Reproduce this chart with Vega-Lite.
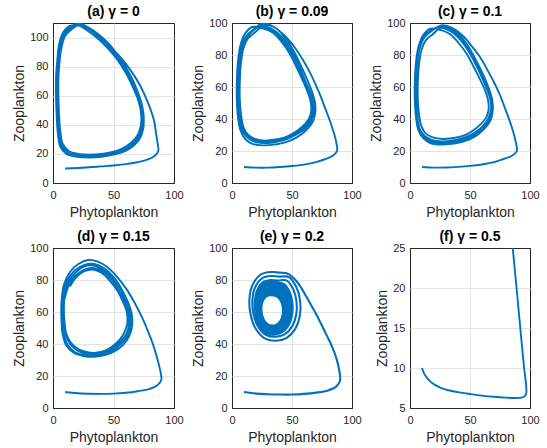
{
"$schema": "https://vega.github.io/schema/vega-lite/v6.json",
"padding": {"left": 12, "top": 4, "right": 2, "bottom": 2},
"config": {
 "font": "Liberation Sans",
 "view": {"stroke": "#262626", "strokeWidth": 1},
 "axis": {"grid": true, "ticks": false, "domain": false, "labelFontSize": 11, "labelColor": "#262626", "titleFontSize": 14, "titleFontWeight": "normal", "titleColor": "#262626", "labelFlush": false, "labelPadding": 5, "titlePadding": 3},
 "axisX": {"labelPadding": 6, "titlePadding": 5},
 "title": {"fontSize": 14, "fontWeight": "bold", "color": "#000000", "offset": -2},
 "line": {"color": "#0072BD", "strokeWidth": 1.9, "interpolate": "catmull-rom"}
},
"datasets": {
"a": [{"x":10,"y":10},{"x":20,"y":10.3},{"x":30,"y":10.8},{"x":40,"y":11.4},{"x":50,"y":12},{"x":60,"y":13},{"x":70,"y":14.3},{"x":78,"y":16},{"x":84,"y":18.5},{"x":87,"y":22},{"x":86.5,"y":27},{"x":85,"y":35},{"x":83.5,"y":43},{"x":80,"y":52},{"x":76,"y":60},{"x":72,"y":67},{"x":67,"y":74},{"x":61,"y":81},{"x":54,"y":88},{"x":46,"y":95},{"x":37,"y":102},{"x":29,"y":107},{"x":22,"y":109.5},
{"x":15,"y":107},{"x":9,"y":102},{"x":6,"y":94},{"x":4.5,"y":84},{"x":3.5,"y":72},{"x":3.5,"y":60},{"x":4,"y":47},{"x":5,"y":35},{"x":7,"y":26},{"x":12,"y":21},{"x":20,"y":19},{"x":30,"y":18.5},{"x":40,"y":19},{"x":50,"y":20.5},{"x":59,"y":23},{"x":66,"y":27},{"x":71,"y":32},{"x":73.5,"y":38},{"x":74,"y":45},{"x":73,"y":52},{"x":71,"y":58},{"x":67,"y":66},{"x":61,"y":76},{"x":54,"y":85},{"x":46,"y":94},{"x":37,"y":101},{"x":29,"y":106},{"x":22,"y":109},
{"x":16,"y":106},{"x":10,"y":101},{"x":7,"y":93},{"x":5.5,"y":84},{"x":4.5,"y":72},{"x":4.5,"y":60},{"x":5,"y":47},{"x":6,"y":36},{"x":8,"y":27},{"x":13,"y":22},{"x":21,"y":20},{"x":30,"y":19.5},{"x":40,"y":20},{"x":50,"y":21.5},{"x":58,"y":24},{"x":65,"y":28},{"x":70,"y":33},{"x":72.5,"y":39},{"x":73,"y":45},{"x":72,"y":52},{"x":70,"y":58},{"x":66,"y":66},{"x":60,"y":76},{"x":53,"y":85},{"x":45,"y":93},{"x":36,"y":100},{"x":28,"y":105},{"x":22,"y":108},
{"x":14,"y":108},{"x":8,"y":103},{"x":5,"y":95},{"x":3.5,"y":84},{"x":2.5,"y":72},{"x":2.5,"y":60},{"x":3,"y":47},{"x":4,"y":34},{"x":6,"y":25},{"x":11,"y":20},{"x":20,"y":18},{"x":30,"y":17.5},{"x":40,"y":18},{"x":50,"y":19.5},{"x":60,"y":22},{"x":67,"y":26},{"x":72,"y":31},{"x":74.5,"y":37},{"x":75,"y":45},{"x":74,"y":52},{"x":72,"y":58},{"x":68,"y":67},{"x":62,"y":77},{"x":55,"y":86},{"x":47,"y":95},{"x":38,"y":102},{"x":29,"y":107},{"x":21,"y":110},
{"x":15,"y":107.5},{"x":9,"y":102.5},{"x":5.5,"y":94},{"x":4,"y":84},{"x":3,"y":72},{"x":3,"y":60},{"x":3.5,"y":47},{"x":4.5,"y":35},{"x":6.5,"y":26},{"x":11.5,"y":20.5},{"x":20,"y":18.5},{"x":30,"y":18},{"x":40,"y":18.5},{"x":50,"y":20},{"x":59.5,"y":22.5},{"x":66.5,"y":26.5},{"x":71.5,"y":31.5},{"x":74,"y":37.5},{"x":74.5,"y":45},{"x":73.5,"y":52},{"x":71.5,"y":58},{"x":67.5,"y":66.5},{"x":61.5,"y":76.5},{"x":54.5,"y":85.5},{"x":46.5,"y":94.5},{"x":37.5,"y":101.5},{"x":29,"y":106.5},{"x":22,"y":109}],
"b": [{"x":10,"y":10},{"x":20,"y":9.6},{"x":30,"y":9.6},{"x":40,"y":10},{"x":50,"y":10.6},{"x":60,"y":11.5},{"x":70,"y":13},{"x":78,"y":15},{"x":84,"y":17},{"x":87.5,"y":20},{"x":87,"y":25},{"x":85,"y":31},{"x":82,"y":38},{"x":78,"y":46},{"x":74,"y":54},{"x":70,"y":61},{"x":65,"y":69},{"x":59,"y":77},{"x":52,"y":85},{"x":44,"y":92},{"x":35,"y":97.5},{"x":26,"y":100},
{"x":18,"y":96},{"x":12,"y":92},{"x":8,"y":85},{"x":6,"y":75},{"x":5,"y":63},{"x":5,"y":52},{"x":6,"y":42},{"x":8,"y":34},{"x":12,"y":29},{"x":18,"y":26},{"x":26,"y":25},{"x":35,"y":25.5},{"x":44,"y":27},{"x":53,"y":30},{"x":61,"y":34},{"x":66,"y":39},{"x":68,"y":45},{"x":67.5,"y":51},{"x":65,"y":57},{"x":61,"y":64},{"x":56,"y":73},{"x":50,"y":82},{"x":43,"y":90},{"x":35,"y":95.5},{"x":26,"y":98},
{"x":19,"y":94},{"x":13,"y":90},{"x":9.5,"y":84},{"x":7.5,"y":75},{"x":6.5,"y":63},{"x":6.5,"y":52},{"x":7.5,"y":43},{"x":9.5,"y":35},{"x":13,"y":30.5},{"x":19,"y":27.5},{"x":27,"y":26.5},{"x":35,"y":27},{"x":44,"y":28.5},{"x":52,"y":31.5},{"x":59,"y":35.5},{"x":64,"y":40},{"x":66,"y":45},{"x":65.5,"y":51},{"x":63,"y":57},{"x":59,"y":64},{"x":54,"y":72},{"x":48,"y":81},{"x":41,"y":88.5},{"x":34,"y":94},{"x":26,"y":96.5},
{"x":17,"y":97.5},{"x":11,"y":93.5},{"x":7,"y":86},{"x":5,"y":76},{"x":4,"y":63},{"x":4,"y":52},{"x":5,"y":41},{"x":7,"y":33},{"x":11,"y":27.5},{"x":17,"y":24.5},{"x":26,"y":23.5},{"x":35,"y":24},{"x":45,"y":25.5},{"x":54,"y":28.5},{"x":62,"y":33},{"x":67.5,"y":38.5},{"x":69.5,"y":45},{"x":69,"y":51},{"x":66.5,"y":57.5},{"x":62.5,"y":65},{"x":57,"y":74},{"x":51,"y":83},{"x":44,"y":91},{"x":36,"y":97},{"x":26,"y":99},
{"x":18,"y":95.5},{"x":12.5,"y":91},{"x":8.5,"y":84.5},{"x":6.5,"y":75},{"x":5.5,"y":63},{"x":5.5,"y":52},{"x":6.5,"y":42.5},{"x":8.5,"y":34.5},{"x":12.5,"y":29.5},{"x":18.5,"y":27},{"x":26.5,"y":26},{"x":35,"y":26},{"x":44.5,"y":27.5},{"x":52.5,"y":30.5},{"x":60,"y":34.5},{"x":65,"y":39.5},{"x":67,"y":45},{"x":66.5,"y":51},{"x":64,"y":57},{"x":60,"y":64},{"x":55,"y":72.5},{"x":49,"y":81.5},{"x":42,"y":89.5},{"x":34.5,"y":95},{"x":26,"y":97.5}],
"c": [{"x":10,"y":10},{"x":20,"y":9.6},{"x":30,"y":9.7},{"x":40,"y":10.1},{"x":50,"y":10.7},{"x":60,"y":11.6},{"x":70,"y":13},{"x":78,"y":15},{"x":85,"y":17},{"x":89,"y":20},{"x":88,"y":26},{"x":86,"y":32},{"x":83,"y":39},{"x":79,"y":47},{"x":75,"y":55},{"x":70,"y":63},{"x":65,"y":70},{"x":59,"y":78},{"x":52,"y":85},{"x":44,"y":92},{"x":35,"y":97},{"x":26,"y":98.5},
{"x":18,"y":95},{"x":12,"y":91},{"x":8,"y":84},{"x":6,"y":75},{"x":5,"y":63},{"x":5,"y":52},{"x":6,"y":42},{"x":8,"y":34},{"x":12,"y":29.5},{"x":18,"y":27},{"x":26,"y":26},{"x":35,"y":26.5},{"x":44,"y":28},{"x":53,"y":31},{"x":60,"y":35},{"x":65,"y":40},{"x":67.5,"y":46},{"x":67,"y":52},{"x":64.5,"y":58},{"x":60.5,"y":65},{"x":55.5,"y":73},{"x":49.5,"y":81.5},{"x":42.5,"y":89},{"x":34.5,"y":94.5},{"x":26,"y":97},
{"x":19,"y":93},{"x":13,"y":89},{"x":9.5,"y":83},{"x":7.5,"y":74},{"x":6.5,"y":63},{"x":6.5,"y":52},{"x":7.5,"y":43},{"x":9.5,"y":35.5},{"x":13,"y":31},{"x":19,"y":28.5},{"x":27,"y":27.5},{"x":35,"y":28},{"x":44,"y":29.5},{"x":52,"y":32.5},{"x":58.5,"y":36.5},{"x":63.5,"y":41},{"x":65.5,"y":46},{"x":65,"y":52},{"x":62.5,"y":58},{"x":58.5,"y":64.5},{"x":53.5,"y":72},{"x":47.5,"y":80.5},{"x":40.5,"y":87.5},{"x":33.5,"y":93},{"x":26,"y":95.5},
{"x":17,"y":96.5},{"x":11,"y":92.5},{"x":7,"y":85},{"x":5,"y":75.5},{"x":4,"y":63},{"x":4,"y":52},{"x":5,"y":41},{"x":7,"y":33},{"x":11,"y":28},{"x":17,"y":25},{"x":26,"y":24},{"x":35,"y":24.5},{"x":45,"y":26},{"x":54,"y":29},{"x":61.5,"y":33.5},{"x":67,"y":39},{"x":69,"y":45.5},{"x":68.5,"y":52},{"x":66,"y":58.5},{"x":62,"y":66},{"x":56.5,"y":74.5},{"x":50.5,"y":83},{"x":43.5,"y":90.5},{"x":35.5,"y":96},{"x":26,"y":98},
{"x":17.5,"y":95.5},{"x":11.5,"y":91.5},{"x":7.5,"y":84.5},{"x":5.5,"y":75},{"x":4.5,"y":63},{"x":4.5,"y":52},{"x":5.5,"y":41.5},{"x":7.5,"y":33.5},{"x":11.5,"y":28.5},{"x":17.5,"y":26},{"x":26,"y":25},{"x":35,"y":25.5},{"x":44.5,"y":27},{"x":53.5,"y":30},{"x":61,"y":34},{"x":66,"y":39.5},{"x":68,"y":45.5},{"x":68,"y":52},{"x":65,"y":58},{"x":61,"y":65.5},{"x":56,"y":74},{"x":50,"y":82},{"x":43,"y":90},{"x":35,"y":95},{"x":26,"y":97.5}],
"d": [{"x":10,"y":10},{"x":20,"y":9.2},{"x":30,"y":8.9},{"x":40,"y":8.8},{"x":50,"y":9},{"x":60,"y":9.5},{"x":70,"y":10.5},{"x":80,"y":12},{"x":86,"y":14},{"x":89.5,"y":17.5},{"x":89,"y":22},{"x":86.5,"y":30},{"x":83,"y":39},{"x":79,"y":47},{"x":74,"y":56},{"x":68,"y":65},{"x":61,"y":74},{"x":53,"y":82},{"x":45,"y":88},{"x":37,"y":91.5},{"x":29,"y":92.5},{"x":21,"y":90},{"x":14,"y":85},
{"x":9,"y":77},{"x":7,"y":66},{"x":7,"y":55},{"x":8,"y":46},{"x":11,"y":39},{"x":17,"y":34.5},{"x":25,"y":32.5},{"x":34,"y":32},{"x":43,"y":33},{"x":51,"y":35.5},{"x":58,"y":39.5},{"x":63,"y":45},{"x":65.5,"y":52},{"x":65,"y":59},{"x":62,"y":66},{"x":57,"y":74},{"x":50,"y":82},{"x":42,"y":87.5},{"x":34,"y":90},{"x":26,"y":89.5},{"x":18,"y":86},{"x":12,"y":80},
{"x":9.5,"y":73},{"x":8.5,"y":64},{"x":9,"y":54},{"x":10.5,"y":46},{"x":14,"y":40},{"x":20,"y":36},{"x":27,"y":34},{"x":35,"y":33.5},{"x":43.5,"y":35},{"x":50.5,"y":38},{"x":56.5,"y":42},{"x":61,"y":47},{"x":63,"y":53},{"x":62,"y":60},{"x":59,"y":66.5},{"x":54.5,"y":73.5},{"x":48,"y":80.5},{"x":40.5,"y":85.5},{"x":33,"y":87.5},{"x":26,"y":86.5},{"x":19,"y":83},{"x":13.5,"y":77.5},
{"x":10.5,"y":71},{"x":8.5,"y":64.5},{"x":8,"y":55},{"x":9,"y":46},{"x":12,"y":39.5},{"x":18,"y":35},{"x":26,"y":33},{"x":35,"y":32.5},{"x":44,"y":34},{"x":51.5,"y":37},{"x":57.5,"y":41},{"x":62,"y":46},{"x":64.5,"y":52.5},{"x":63.5,"y":59.5},{"x":60.5,"y":66.5},{"x":56,"y":74},{"x":49,"y":81.5},{"x":41,"y":86.5},{"x":33.5,"y":89},{"x":26,"y":88.5},{"x":18.5,"y":84.5},{"x":13,"y":79},
{"x":10,"y":72},{"x":9,"y":63},{"x":9.5,"y":54},{"x":11,"y":46.5},{"x":14.5,"y":41},{"x":20.5,"y":37},{"x":27.5,"y":35},{"x":35.5,"y":34.5},{"x":43.5,"y":36},{"x":50,"y":39},{"x":55.5,"y":43},{"x":59.5,"y":48},{"x":61.5,"y":53.5},{"x":61,"y":60},{"x":58,"y":66},{"x":53.5,"y":73},{"x":47,"y":79.5},{"x":40,"y":84.5},{"x":33,"y":86.5},{"x":26,"y":85.5},{"x":19.5,"y":82},{"x":14,"y":76}],
"e": [{"x":10,"y":10},{"x":20,"y":9},{"x":30,"y":8.6},{"x":40,"y":8.4},{"x":50,"y":8.4},{"x":60,"y":8.8},{"x":70,"y":9.6},{"x":80,"y":11},{"x":87,"y":13.5},{"x":90,"y":17},{"x":89.5,"y":23},{"x":87,"y":31},{"x":83,"y":39},{"x":78.5,"y":46},{"x":74,"y":53},{"x":68,"y":61.5},{"x":62,"y":69.5},{"x":56.5,"y":76.5},{"x":51,"y":81.5},{"x":45,"y":84.3},
{"x":40,"y":84.6},{"x":32.6,"y":85},{"x":24.1,"y":83.5},{"x":17.05,"y":76.8},{"x":14.5,"y":67.8},{"x":15.6,"y":58.1},{"x":19.8,"y":49.5},{"x":27.25,"y":43.5},{"x":36.8,"y":42},{"x":45.3,"y":43.7},{"x":52.75,"y":49.5},{"x":56.6,"y":58.1},{"x":56.6,"y":67.8},{"x":53.8,"y":75.3},{"x":47.4,"y":81.8},
{"x":39.2,"y":82.1},{"x":32.7,"y":82.5},{"x":25.3,"y":81.2},{"x":19.2,"y":75.3},{"x":17,"y":67.3},{"x":17.9,"y":58.75},{"x":21.6,"y":51.15},{"x":28.1,"y":45.8},{"x":36.4,"y":44.5},{"x":43.8,"y":46},{"x":50.3,"y":51.15},{"x":53.6,"y":58.75},{"x":53.6,"y":67.3},{"x":51.2,"y":73.95},{"x":45.7,"y":79.65},
{"x":37.9,"y":79.7},{"x":32.4,"y":80},{"x":26.1,"y":78.8},{"x":20.9,"y":73.5},{"x":19,"y":66.4},{"x":19.8,"y":58.75},{"x":22.9,"y":51.95},{"x":28.45,"y":47.2},{"x":35.5,"y":46},{"x":41.85,"y":47.4},{"x":47.35,"y":51.95},{"x":50.2,"y":58.75},{"x":50.2,"y":66.4},{"x":48.1,"y":72.35},{"x":43.4,"y":77.45},
{"x":37.6,"y":78.45},{"x":32.4,"y":78.75},{"x":26.45,"y":77.6},{"x":21.55,"y":72.65},{"x":19.75,"y":65.95},{"x":20.5,"y":58.75},{"x":23.45,"y":52.35},{"x":28.7,"y":47.9},{"x":35.35,"y":46.75},{"x":41.3,"y":48.05},{"x":46.5,"y":52.35},{"x":49.2,"y":58.75},{"x":49.2,"y":65.95},{"x":47.25,"y":71.55},{"x":42.8,"y":76.35},
{"x":37.3,"y":77.2},{"x":32.4,"y":77.5},{"x":26.8,"y":76.45},{"x":22.2,"y":71.8},{"x":20.5,"y":65.5},{"x":21.2,"y":58.75},{"x":24,"y":52.75},{"x":28.9,"y":48.55},{"x":35.2,"y":47.5},{"x":40.8,"y":48.7},{"x":45.7,"y":52.75},{"x":48.2,"y":58.75},{"x":48.2,"y":65.5},{"x":46.4,"y":70.75},{"x":42.2,"y":75.25},
{"x":37,"y":76},{"x":32.4,"y":76.25},{"x":27.15,"y":75.3},{"x":22.85,"y":70.9},{"x":21.25,"y":65.05},{"x":21.9,"y":58.75},{"x":24.55,"y":53.15},{"x":29.1,"y":49.2},{"x":35.05,"y":48.25},{"x":40.3,"y":49.4},{"x":44.9,"y":53.15},{"x":47.2,"y":58.75},{"x":47.2,"y":65.05},{"x":45.5,"y":69.95},{"x":41.6,"y":74.15},
{"x":36.7,"y":74.75},{"x":32.4,"y":75},{"x":27.5,"y":74.1},{"x":23.5,"y":70.06},{"x":22,"y":64.6},{"x":22.6,"y":58.75},{"x":25.1,"y":53.55},{"x":29.35,"y":49.9},{"x":34.9,"y":49},{"x":39.75,"y":50.05},{"x":44.05,"y":53.55},{"x":46.25,"y":58.75},{"x":46.25,"y":64.6},{"x":44.65,"y":69.15},{"x":41,"y":73.05},
{"x":36.25,"y":73.5},{"x":32.3,"y":73.75},{"x":27.8,"y":72.9},{"x":24.1,"y":69.2},{"x":22.75,"y":64.15},{"x":23.3,"y":58.75},{"x":25.6,"y":53.95},{"x":29.5,"y":50.6},{"x":34.6,"y":49.75},{"x":39.05,"y":50.7},{"x":43,"y":53.95},{"x":45,"y":58.75},{"x":45,"y":64.15},{"x":43.55,"y":68.35},{"x":40.2,"y":71.95},
{"x":35.8,"y":72.3},{"x":32.2,"y":72.5},{"x":28.1,"y":71.7},{"x":24.7,"y":68.3},{"x":23.5,"y":63.7},{"x":24,"y":58.75},{"x":26.05,"y":54.35},{"x":29.65,"y":51.3},{"x":34.25,"y":50.5},{"x":38.35,"y":51.4},{"x":41.95,"y":54.35},{"x":43.8,"y":58.75},{"x":43.8,"y":63.7},{"x":42.45,"y":67.55},{"x":39.4,"y":70.85},
{"x":35.55,"y":71.3},{"x":32.2,"y":71.5},{"x":28.3,"y":70.75},{"x":25.15,"y":67.6},{"x":24,"y":63.3},{"x":24.5,"y":58.7},{"x":26.4,"y":54.6},{"x":29.8,"y":51.75},{"x":34.1,"y":51},{"x":37.95,"y":51.85},{"x":41.3,"y":54.6},{"x":43.05,"y":58.7},{"x":43.05,"y":63.3},{"x":41.8,"y":66.9},{"x":38.9,"y":69.95},
{"x":35.3,"y":70.3},{"x":32.15,"y":70.5},{"x":28.55,"y":69.8},{"x":25.6,"y":66.9},{"x":24.5,"y":62.9},{"x":24.95,"y":58.6},{"x":26.75,"y":54.8},{"x":29.9,"y":52.2},{"x":33.95,"y":51.5},{"x":37.55,"y":52.3},{"x":40.7,"y":54.8},{"x":42.3,"y":58.6},{"x":42.3,"y":62.9},{"x":41.15,"y":66.2},{"x":38.45,"y":69.1},{"x":35.3,"y":70.3}],
"f": [{"x":10,"y":10},{"x":11.5,"y":9.4},{"x":13.5,"y":8.9},{"x":16,"y":8.45},{"x":19,"y":8.05},{"x":23,"y":7.7},{"x":28,"y":7.4},{"x":34,"y":7.15},{"x":41,"y":6.95},{"x":50,"y":6.75},{"x":60,"y":6.55},{"x":70,"y":6.4},{"x":80,"y":6.3},{"x":88,"y":6.25},{"x":93,"y":6.3},{"x":95.5,"y":6.45},{"x":96.8,"y":6.8},{"x":97,"y":7.3},{"x":96.3,"y":8.5},{"x":95.1,"y":10},{"x":91.9,"y":15},{"x":88.8,"y":20},{"x":85.6,"y":25},{"x":83.7,"y":28}]
},
"bounds": "flush",
"spacing": {"row": 65, "column": 58},
"columns": 3,
"concat": [
  {"width": 121, "height": 160, "title": {"text": "(a) γ = 0", "offset": 4}, "data": {"name": "a"}, "mark": {"type": "line", "clip": true},
   "encoding": {"x": {"field": "x", "type": "quantitative", "scale": {"domain": [0, 100], "nice": false}, "axis": {"values": [0, 50, 100], "title": "Phytoplankton", "gridColor": {"condition": {"test": "datum.value === 0 || datum.value === 100", "value": "#262626"}, "value": "#e3e3e3"}}},
    "y": {"field": "y", "type": "quantitative", "scale": {"domain": [0, 110], "nice": false}, "axis": {"values": [0, 20, 40, 60, 80, 100], "title": "Zooplankton", "gridColor": {"condition": {"test": "datum.value === 0", "value": "#262626"}, "value": "#e3e3e3"}}},
    "order": {"value": null}}},
  {"width": 120, "height": 160, "title": "(b) γ = 0.09", "data": {"name": "b"}, "mark": {"type": "line", "clip": true},
   "encoding": {"x": {"field": "x", "type": "quantitative", "scale": {"domain": [0, 100], "nice": false}, "axis": {"values": [0, 50, 100], "title": "Phytoplankton", "gridColor": {"condition": {"test": "datum.value === 0 || datum.value === 100", "value": "#262626"}, "value": "#e3e3e3"}}},
    "y": {"field": "y", "type": "quantitative", "scale": {"domain": [0, 100], "nice": false}, "axis": {"values": [0, 20, 40, 60, 80, 100], "title": "Zooplankton", "gridColor": {"condition": {"test": "datum.value === 0 || datum.value === 100", "value": "#262626"}, "value": "#e3e3e3"}}},
    "order": {"value": null}}},
  {"width": 120, "height": 160, "title": "(c) γ = 0.1", "data": {"name": "c"}, "mark": {"type": "line", "clip": true},
   "encoding": {"x": {"field": "x", "type": "quantitative", "scale": {"domain": [0, 100], "nice": false}, "axis": {"values": [0, 50, 100], "title": "Phytoplankton", "gridColor": {"condition": {"test": "datum.value === 0 || datum.value === 100", "value": "#262626"}, "value": "#e3e3e3"}}},
    "y": {"field": "y", "type": "quantitative", "scale": {"domain": [0, 100], "nice": false}, "axis": {"values": [0, 20, 40, 60, 80, 100], "title": "Zooplankton", "gridColor": {"condition": {"test": "datum.value === 0 || datum.value === 100", "value": "#262626"}, "value": "#e3e3e3"}}},
    "order": {"value": null}}},
  {"width": 121, "height": 160, "title": "(d) γ = 0.15", "data": {"name": "d"}, "mark": {"type": "line", "clip": true},
   "encoding": {"x": {"field": "x", "type": "quantitative", "scale": {"domain": [0, 100], "nice": false}, "axis": {"values": [0, 50, 100], "title": "Phytoplankton", "gridColor": {"condition": {"test": "datum.value === 0 || datum.value === 100", "value": "#262626"}, "value": "#e3e3e3"}}},
    "y": {"field": "y", "type": "quantitative", "scale": {"domain": [0, 100], "nice": false}, "axis": {"values": [0, 20, 40, 60, 80, 100], "title": "Zooplankton", "gridColor": {"condition": {"test": "datum.value === 0 || datum.value === 100", "value": "#262626"}, "value": "#e3e3e3"}}},
    "order": {"value": null}}},
  {"width": 120, "height": 160, "title": "(e) γ = 0.2", "data": {"name": "e"}, "mark": {"type": "line", "clip": true, "strokeWidth": 2.1},
   "encoding": {"x": {"field": "x", "type": "quantitative", "scale": {"domain": [0, 100], "nice": false}, "axis": {"values": [0, 50, 100], "title": "Phytoplankton", "gridColor": {"condition": {"test": "datum.value === 0 || datum.value === 100", "value": "#262626"}, "value": "#e3e3e3"}}},
    "y": {"field": "y", "type": "quantitative", "scale": {"domain": [0, 100], "nice": false}, "axis": {"values": [0, 20, 40, 60, 80, 100], "title": "Zooplankton", "gridColor": {"condition": {"test": "datum.value === 0 || datum.value === 100", "value": "#262626"}, "value": "#e3e3e3"}}},
    "order": {"value": null}}},
  {"width": 120, "height": 160, "title": "(f) γ = 0.5", "data": {"name": "f"}, "mark": {"type": "line", "clip": true},
   "encoding": {"x": {"field": "x", "type": "quantitative", "scale": {"domain": [0, 100], "nice": false}, "axis": {"values": [0, 50, 100], "title": "Phytoplankton", "gridColor": {"condition": {"test": "datum.value === 0 || datum.value === 100", "value": "#262626"}, "value": "#e3e3e3"}}},
    "y": {"field": "y", "type": "quantitative", "scale": {"domain": [5, 25], "nice": false}, "axis": {"values": [5, 10, 15, 20, 25], "title": "Zooplankton", "gridColor": {"condition": {"test": "datum.value === 5 || datum.value === 25", "value": "#262626"}, "value": "#e3e3e3"}}},
    "order": {"value": null}}}
]
}
